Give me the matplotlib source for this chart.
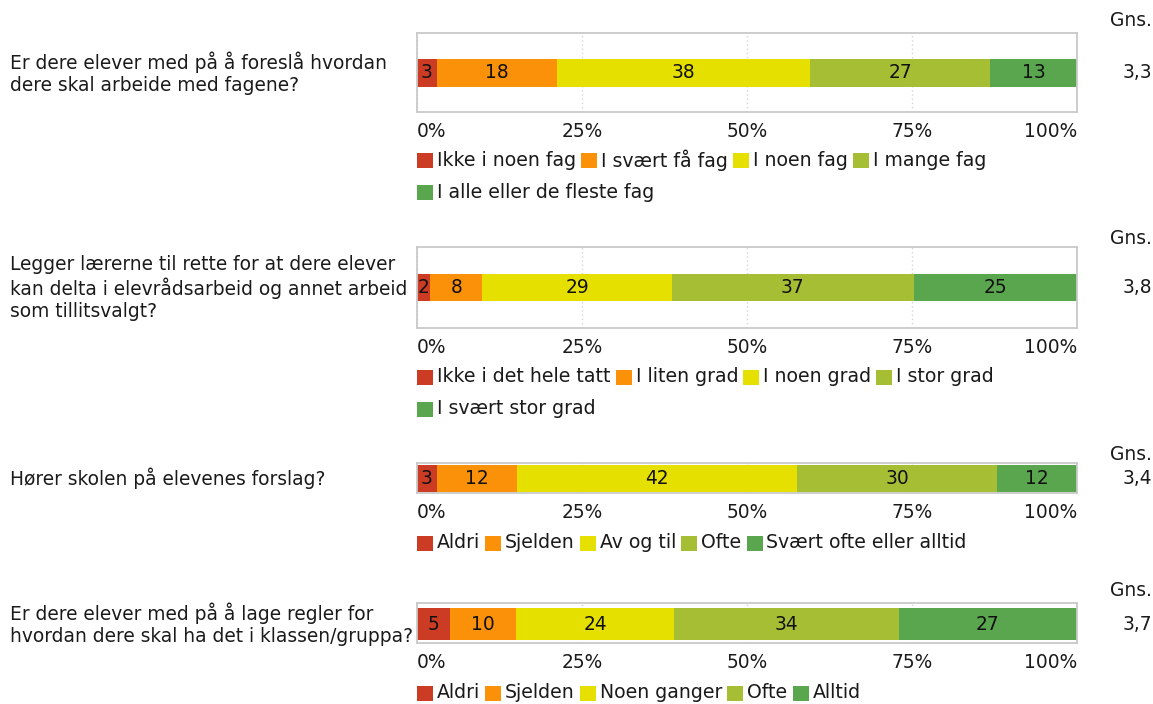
import matplotlib
matplotlib.use("Agg")
import matplotlib.pyplot as plt
from matplotlib.patches import Rectangle

# ---------------- data ----------------
questions = [
    "Er dere elever med på å foreslå hvordan\ndere skal arbeide med fagene?",
    "Legger lærerne til rette for at dere elever\nkan delta i elevrådsarbeid og annet arbeid\nsom tillitsvalgt?",
    "Hører skolen på elevenes forslag?",
    "Er dere elever med på å lage regler for\nhvordan dere skal ha det i klassen/gruppa?",
]
values_q1 = [3, 18, 38, 27, 13]
values_q2 = [2, 8, 29, 37, 25]
values_q3 = [3, 12, 42, 30, 12]
values_q4 = [5, 10, 24, 34, 27]
all_values = [values_q1, values_q2, values_q3, values_q4]

legend_q1 = ["Ikke i noen fag", "I svært få fag", "I noen fag", "I mange fag", "I alle eller de fleste fag"]
legend_q2 = ["Ikke i det hele tatt", "I liten grad", "I noen grad", "I stor grad", "I svært stor grad"]
legend_q3 = ["Aldri", "Sjelden", "Av og til", "Ofte", "Svært ofte eller alltid"]
legend_q4 = ["Aldri", "Sjelden", "Noen ganger", "Ofte", "Alltid"]
all_legends = [legend_q1, legend_q2, legend_q3, legend_q4]

means = ["3,3", "3,8", "3,4", "3,7"]
tick_values = [0, 25, 50, 75, 100]
tick_labels = ["0%", "25%", "50%", "75%", "100%"]
mean_header = "Gns."

colors = ["#cc3b24", "#fb9108", "#e6e000", "#a5be34", "#5aa64e"]

# ---------------- layout (pixels) ----------------
W, H = 1153, 704
fig = plt.figure(figsize=(W / 100, H / 100), dpi=100)
fig.patch.set_facecolor("white")
FS = 13.4
LFS = 13.6
TXT = "#1a1a1a"

def fx(px):
    return px / W

def fy(py):
    return 1 - py / H

box_left, box_right = 417, 1077
panels = [
    dict(bt=33, bb=112, yt=59, yb=87, leg=[160, 192], gns=20),
    dict(bt=247, bb=328, yt=274, yb=301, leg=[377, 409], gns=238),
    dict(bt=463, bb=493, yt=465, yb=492, leg=[543], gns=455),
    dict(bt=603, bb=643, yt=608, yb=640, leg=[693], gns=590),
]

fig.canvas.draw()
renderer = fig.canvas.get_renderer()

for i, p in enumerate(panels):
    vals = all_values[i]
    ax = fig.add_axes([fx(box_left), fy(p["bb"]), fx(box_right - box_left), (p["bb"] - p["bt"]) / H])
    ax.set_xlim(0, 100)
    ax.set_ylim(p["bb"], p["bt"])
    total = sum(vals)
    left = 0.0
    yc = (p["yt"] + p["yb"]) / 2
    for v, c in zip(vals, colors):
        w = v / total * 100
        ax.barh(yc, w, left=left, height=p["yb"] - p["yt"], color=c, edgecolor="none", zorder=2)
        ax.text(left + w / 2, yc, str(v), ha="center", va="center", fontsize=FS, color="#111111", zorder=3)
        left += w
    ax.set_yticks([])
    ax.set_xticks(tick_values)
    ax.set_xticklabels(tick_labels, fontsize=FS, color=TXT)
    ax.tick_params(axis="x", length=0, pad=7)
    labs = ax.get_xticklabels()
    labs[0].set_ha("left")
    labs[-1].set_ha("right")
    ax.grid(axis="x", linestyle=(0, (1, 2)), color="#d5d5d5", linewidth=1)
    ax.set_axisbelow(True)
    for s in ax.spines.values():
        s.set_color("#c9c9c9")
        s.set_linewidth(1.3)

    fig.text(fx(10), fy(yc), questions[i], ha="left", va="center", fontsize=FS, color=TXT, linespacing=1.2)
    fig.text(fx(1152), fy(p["gns"]), mean_header, ha="right", va="center", fontsize=FS, color=TXT)
    fig.text(fx(1152), fy(yc), means[i], ha="right", va="center", fontsize=FS, color=TXT)

    # legend flow
    row = 0
    x = box_left
    for lab, c in zip(all_legends[i], colors):
        t = fig.text(0, 0, lab, fontsize=LFS)
        tw = t.get_window_extent(renderer).width
        t.remove()
        if x + 20 + tw > box_right + 2 and x > box_left:
            row += 1
            x = box_left
        ly = p["leg"][row]
        fig.patches.append(Rectangle((fx(x), fy(ly + 8)), 16 / W, 15 / H, transform=fig.transFigure,
                                     facecolor=c, edgecolor="none"))
        fig.text(fx(x + 20), fy(ly), lab, ha="left", va="center", fontsize=LFS, color=TXT)
        x += 20 + tw + 5

fig.savefig("out.png", dpi=100, facecolor="white")
